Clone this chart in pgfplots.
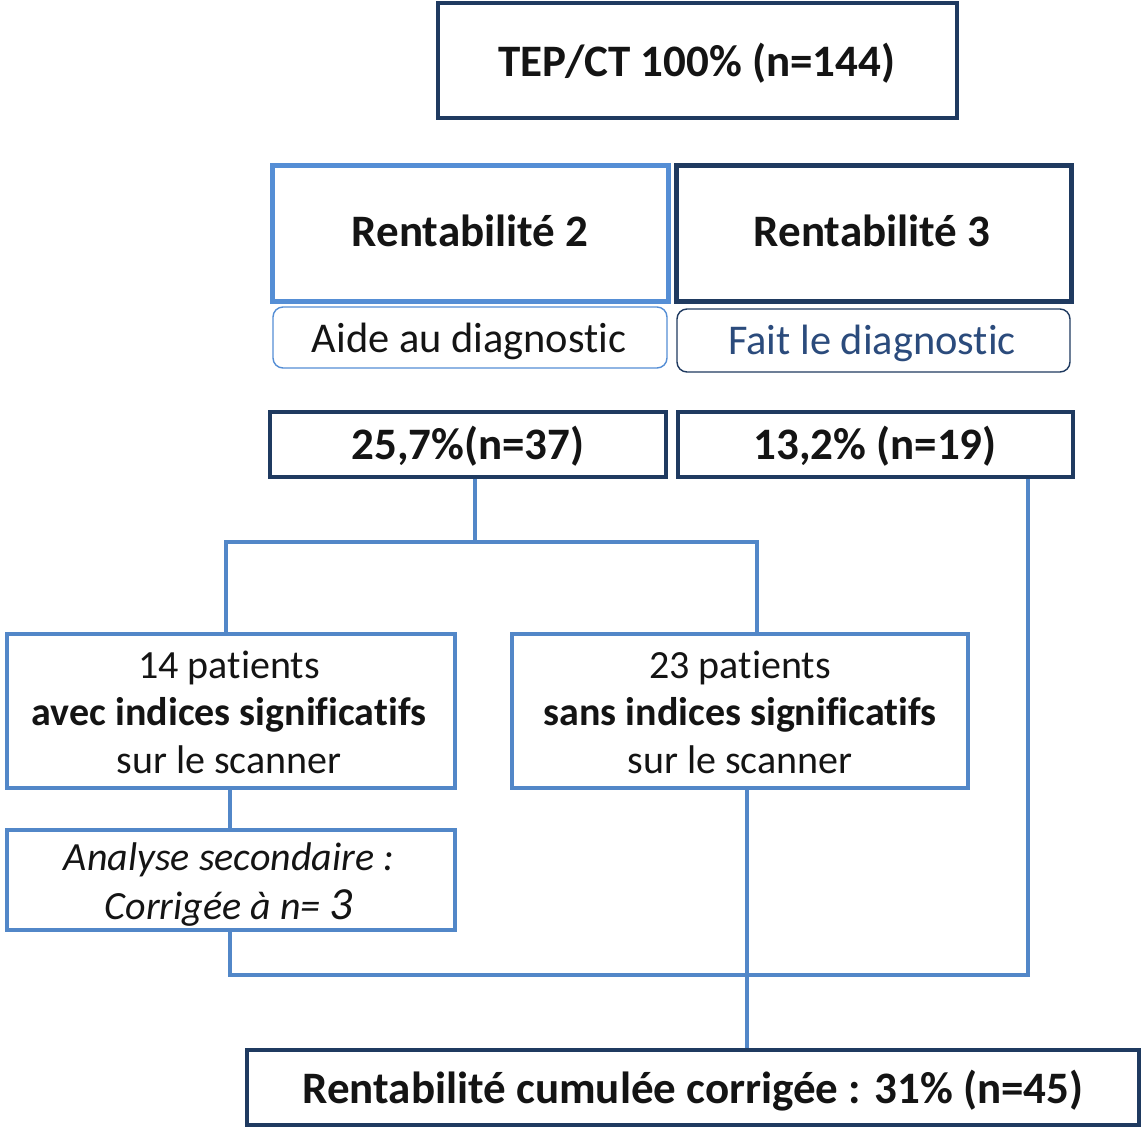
\documentclass[border=0pt]{standalone}
\usepackage{fontspec}
\setmainfont{Carlito}[Ligatures=NoCommon,RawFeature=-liga]
\usepackage{pgfplots}
\pgfplotsset{compat=1.18}
\definecolor{lb}{HTML}{558ED5}
\definecolor{ln}{HTML}{5287C8}
\definecolor{nv}{HTML}{1F3A60}
\definecolor{tx}{HTML}{2B4B7C}
\definecolor{bk}{HTML}{141414}
\begin{document}
\begin{tikzpicture}
\begin{axis}[width=570.5pt,height=563.5pt,scale only axis,
  xmin=0,xmax=1141,ymin=0,ymax=1127,y dir=reverse,hide axis,clip=false]
% connectors
\addplot[ln,line width=2pt] coordinates {(475,477) (475,542)};
\addplot[ln,line width=2pt] coordinates {(226,634) (226,542) (757,542) (757,634)};
\addplot[ln,line width=2pt] coordinates {(1028,477) (1028,975) (230,975) (230,930)};
\addplot[ln,line width=2pt] coordinates {(230,788) (230,830)};
\addplot[ln,line width=2pt] coordinates {(747,788) (747,1050)};
% boxes
\draw[nv,line width=2pt,fill=white] (axis cs:438,3) rectangle (axis cs:957,118);
\draw[lb,line width=2.5pt,fill=white] (axis cs:272,166) rectangle (axis cs:668,302);
\draw[nv,line width=2.5pt,fill=white] (axis cs:676,166) rectangle (axis cs:1071,302);
\draw[lb,line width=0.7pt,fill=white,rounded corners=5pt] (axis cs:273,307) rectangle (axis cs:667,368);
\draw[nv,line width=0.7pt,fill=white,rounded corners=5pt] (axis cs:677,309) rectangle (axis cs:1070,372);
\draw[nv,line width=2pt,fill=white] (axis cs:270,412) rectangle (axis cs:666,477);
\draw[nv,line width=2pt,fill=white] (axis cs:678,412) rectangle (axis cs:1073,477);
\draw[ln,line width=2pt,fill=white] (axis cs:7,634) rectangle (axis cs:455,788);
\draw[ln,line width=2pt,fill=white] (axis cs:512,634) rectangle (axis cs:968,788);
\draw[ln,line width=2pt,fill=white] (axis cs:7,830) rectangle (axis cs:455,930);
\draw[nv,line width=2pt,fill=white] (axis cs:247,1050) rectangle (axis cs:1139,1125);
% texts
\tikzset{hb/.style={text=bk,inner sep=0pt,anchor=base,font=\fontsize{22.5}{27}\selectfont\bfseries},
  rg/.style={text=bk,inner sep=0pt,anchor=base,font=\fontsize{20}{24}\selectfont},
  bd/.style={text=bk,inner sep=0pt,anchor=base,font=\fontsize{20}{24}\selectfont\bfseries},
  it/.style={text=bk,inner sep=0pt,anchor=base,font=\fontsize{20}{24}\selectfont\itshape}}
\node[hb] at (axis cs:697,77) {TEP/CT 100\% (n=144)};
\node[hb] at (axis cs:470,247) {Rentabilité 2};
\node[hb] at (axis cs:872,247) {Rentabilité 3};
\node[rg,font=\fontsize{21.2}{24}\selectfont] at (axis cs:469,353) {Aide au diagnostic};
\node[rg,text=tx,font=\fontsize{21.2}{24}\selectfont] at (axis cs:872,355) {Fait le diagnostic};
\node[hb] at (axis cs:468,460) {25,7\%(n=37)};
\node[hb] at (axis cs:875,460) {13,2\% (n=19)};
\node[rg] at (axis cs:229,679) {14 patients};
\node[bd] at (axis cs:229,726) {avec indices significatifs};
\node[rg] at (axis cs:229,774) {sur le scanner};
\node[rg] at (axis cs:740,679) {23 patients};
\node[bd] at (axis cs:740,726) {sans indices significatifs};
\node[rg] at (axis cs:740,774) {sur le scanner};
\node[it] at (axis cs:229,871) {Analyse secondaire :};
\node[it] at (axis cs:229,920) {Corrigée à n= {\fontsize{23}{24}\selectfont 3}};
\node[hb] at (axis cs:693,1103) {Rentabilité cumulée corrigée : 31\% (n=45)};
\end{axis}
\pgfresetboundingbox
\useasboundingbox (current axis.south west) rectangle (current axis.north east);
\end{tikzpicture}
\end{document}
